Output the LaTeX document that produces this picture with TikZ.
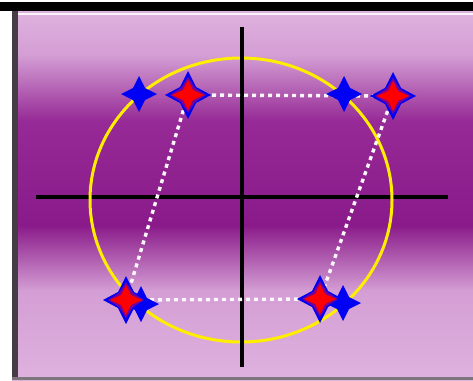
\documentclass[tikz,border=0pt]{standalone}
\definecolor{lightA}{RGB}{222,178,222}
\definecolor{lightB}{RGB}{212,158,212}
\definecolor{midP}{RGB}{150,42,150}
\definecolor{darkP}{RGB}{138,26,138}
\definecolor{ylw}{RGB}{255,238,0}
\definecolor{starblue}{RGB}{0,0,245}
\definecolor{starred}{RGB}{255,0,0}
\definecolor{starmid}{RGB}{120,0,150}
\definecolor{edgegray}{RGB}{70,60,70}
\tikzset{
  axisline/.style={line width=3.5pt, black},
  ring/.style={line width=3pt, ylw},
  dots/.style={white!90!lightA, line width=3.4pt, dash pattern=on 4pt off 4pt},
  pics/bluestar/.style={code={
    \fill[starblue] (0,18) -- (6,6) -- (18,0) -- (6,-6) -- (0,-18) -- (-6,-6) -- (-18,0) -- (-6,6) -- cycle;
  }},
  pics/redstar/.style={code={
    \fill[starblue] (0,24) -- (8,8) -- (23,0) -- (8,-8) -- (0,-24) -- (-8,-8) -- (-23,0) -- (-8,8) -- cycle;
    \fill[starmid] (0,18) -- (7,7) -- (18,0) -- (7,-7) -- (0,-18) -- (-7,-7) -- (-18,0) -- (-7,7) -- cycle;
    \fill[starred] (0,15) -- (5,5) -- (16,0) -- (5,-5) -- (0,-15) -- (-5,-5) -- (-16,0) -- (-5,5) -- cycle;
  }}
}
\begin{document}
\begin{tikzpicture}[x=1pt,y=-1pt]
\useasboundingbox (0,0) rectangle (473,380);
\fill[white] (0,0) rectangle (473,380);
\fill[black] (0,2) rectangle (473,11);
% background gradient
\shade[top color=lightA, bottom color=lightB] (12,11) rectangle (473,56);
\shade[top color=lightB, bottom color=midP] (12,55) rectangle (473,121);
\shade[top color=midP, bottom color=darkP] (12,120) rectangle (473,226);
\shade[top color=darkP, bottom color=lightB] (12,225) rectangle (473,291);
\shade[top color=lightB, bottom color=lightA] (12,290) rectangle (473,380);
\fill[edgegray] (12,11) rectangle (18,380);
\fill[edgegray!70] (12,377) rectangle (473,380);
\fill[white!85!lightA] (18,13) rectangle (473,15);
% axes and circle
\coordinate (hl) at (36,197);
\coordinate (hr) at (448,197);
\coordinate (vt) at (242,27);
\coordinate (vb) at (242,367);
\coordinate (c) at (241,200);
\draw[axisline] (hl) -- (hr);
\draw[ring] (c) ellipse [x radius=151, y radius=142];
\draw[axisline] (vt) -- (vb);
% star positions
\coordinate (btl) at (139,94);
\coordinate (rtl) at (188,95);
\coordinate (btr) at (344,94);
\coordinate (rtr) at (393,96);
\coordinate (rbl) at (126,300);
\coordinate (bbl) at (141,304);
\coordinate (rbr) at (320,299);
\coordinate (bbr) at (343,303);
% dotted lines
\draw[dots] (rtl) -- (rtr);
\draw[dots] (rbl) -- (rbr);
\draw[dots] (rtl) -- (rbl);
\draw[dots] (rtr) -- (rbr);
% stars
\pic at (btl) {bluestar};
\pic at (btr) {bluestar};
\pic at (bbl) {bluestar};
\pic at (bbr) {bluestar};
\pic at (rtl) {redstar};
\pic at (rtr) {redstar};
\pic at (rbl) {redstar};
\pic at (rbr) {redstar};
\end{tikzpicture}
\end{document}
